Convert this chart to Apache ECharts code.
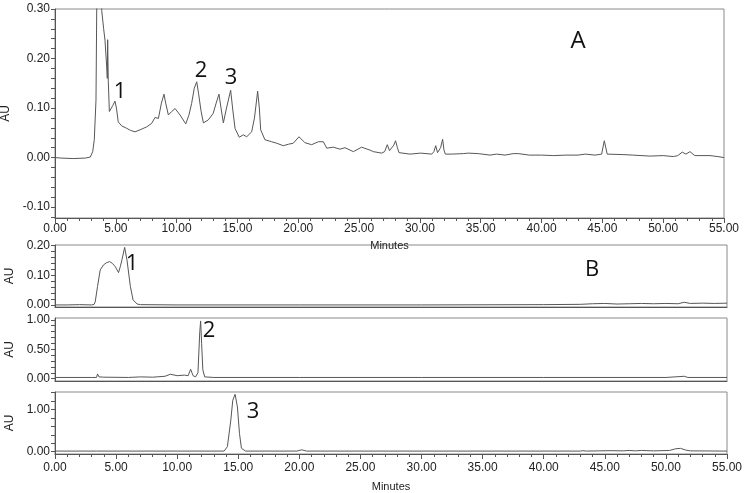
<!DOCTYPE html>
<html>
<head>
<meta charset="utf-8">
<script src="https://cdn.jsdelivr.net/npm/echarts@6/dist/echarts.min.js"></script>
<style>
html,body{margin:0;padding:0;background:#fff;}
#c{width:749px;height:493px;}
</style>
</head>
<body>
<div id="c"></div>
<script>
// ---- data (minutes, AU) ----
const traceA = [[0,0],[0.5,-0.001],[1.5,-0.002],[2.5,-0.001],[2.9,0.001],[3.1,0.012],[3.23,0.036],[3.37,0.116],[3.43,0.3],[3.6,0.48],[3.75,0.42],[3.84,0.297],[4.0,0.26],[4.11,0.237],[4.25,0.183],[4.3,0.16],[4.33,0.238],[4.36,0.238],[4.38,0.155],[4.47,0.093],[4.56,0.091],[4.75,0.105],[4.93,0.114],[5.05,0.1],[5.2,0.072],[5.48,0.064],[5.9,0.059],[6.2,0.055],[6.58,0.052],[6.99,0.056],[7.54,0.062],[7.95,0.069],[8.22,0.081],[8.5,0.079],[8.75,0.11],[8.96,0.128],[9.1,0.11],[9.32,0.086],[9.59,0.093],[9.87,0.099],[10.28,0.086],[10.75,0.068],[11.0,0.085],[11.23,0.109],[11.45,0.14],[11.65,0.153],[11.8,0.13],[12.0,0.095],[12.2,0.07],[12.6,0.076],[13.0,0.089],[13.25,0.11],[13.48,0.128],[13.65,0.1],[13.84,0.070],[14.1,0.1],[14.44,0.136],[14.6,0.1],[14.8,0.059],[15.15,0.041],[15.48,0.046],[15.76,0.042],[16.17,0.052],[16.4,0.08],[16.66,0.134],[16.8,0.1],[16.91,0.056],[17.26,0.036],[17.81,0.032],[18.22,0.029],[18.77,0.024],[19.2,0.027],[19.59,0.029],[20.06,0.042],[20.55,0.030],[21.1,0.026],[21.65,0.032],[22.06,0.032],[22.34,0.019],[22.88,0.021],[23.43,0.017],[23.84,0.020],[24.53,0.012],[25.2,0.021],[25.9,0.015],[26.17,0.012],[26.85,0.009],[27.1,0.012],[27.32,0.026],[27.5,0.014],[27.62,0.010],[27.85,0.025],[28.0,0.034],[28.15,0.02],[28.28,0.010],[29.18,0.007],[30.06,0.009],[30.97,0.007],[31.15,0.012],[31.3,0.024],[31.45,0.01],[31.54,0.007],[31.7,0.02],[31.87,0.037],[31.98,0.015],[32.09,0.007],[32.6,0.007],[33.57,0.008],[33.98,0.009],[34.8,0.008],[35.76,0.005],[36.3,0.007],[37.0,0.005],[37.67,0.008],[38.08,0.008],[39.0,0.005],[40,0.005],[41,0.004],[42,0.005],[43,0.005],[43.6,0.007],[44.4,0.005],[44.94,0.007],[45.16,0.034],[45.4,0.007],[46.7,0.006],[47.5,0.005],[48.9,0.003],[50,0.004],[50.83,0.002],[51.2,0.004],[51.57,0.011],[51.87,0.007],[52.2,0.012],[52.6,0.004],[53.85,0.004],[54.5,0.002],[55,0]];
const traceB = [[0,0],[1,0],[2,0.001],[3,0],[3.2,0.002],[3.29,0.01],[3.48,0.062],[3.7,0.118],[3.97,0.135],[4.2,0.142],[4.47,0.146],[4.7,0.14],[4.93,0.129],[5.2,0.109],[5.35,0.13],[5.48,0.152],[5.7,0.194],[5.89,0.152],[6.17,0.062],[6.39,0.017],[6.72,0.003],[7,0.001],[10,0],[20,0],[30,0],[40,0.001],[43,0.002],[44,0.004],[45,0.005],[46,0.003],[47,0.004],[48,0.005],[49,0.004],[50,0.005],[51,0.004],[51.5,0.009],[52,0.005],[53,0.006],[54,0.005],[55,0.006]];
const traceC = [[0,0.02],[3,0.02],[3.4,0.02],[3.48,0.08],[3.6,0.03],[4,0.025],[6,0.02],[7,0.03],[8,0.025],[9,0.04],[9.45,0.075],[10.0,0.05],[10.6,0.06],[10.9,0.05],[11.1,0.16],[11.3,0.05],[11.5,0.03],[11.7,0.1],[11.85,0.8],[11.92,0.98],[12.0,0.6],[12.1,0.15],[12.25,0.03],[13,0.02],[20,0.02],[30,0.02],[40,0.02],[50,0.02],[51.5,0.04],[51.8,0.02],[55,0.02]];
const traceD = [[0,0.015],[3.4,0.015],[3.5,0.04],[3.6,0.015],[10,0.015],[13.84,0.015],[14.11,0.12],[14.39,0.75],[14.55,1.22],[14.74,1.36],[14.93,1.06],[15.1,0.43],[15.26,0.08],[15.6,0.015],[19.8,0.015],[20.2,0.045],[20.6,0.015],[43,0.015],[43.2,0.025],[43.5,0.015],[44.5,0.02],[45.5,0.025],[46.5,0.02],[47,0.03],[47.5,0.02],[48,0.03],[49,0.02],[50.3,0.03],[50.8,0.07],[51.2,0.08],[51.6,0.04],[52,0.02],[55,0.015]];

// tick labels
const xTicks = [0,5,10,15,20,25,30,35,40,45,50,55];
const yTicksA = [-0.10,0.00,0.10,0.20,0.30];
const yTicksB = [0.00,0.10,0.20];
const yTicksC = [0.00,0.50,1.00];
const yTicksD = [0.00,1.00];
// axis ranges
const rangeA = [-0.122,0.30];
const rangeB = [-0.007,0.202];
const rangeC = [-0.04,1.03];
const rangeD = [-0.054,1.415];

const axisColor = '#555';
const txtColor = '#222';
const lineColor = '#575757';
const font = '"Liberation Sans", Arial, sans-serif';

function withMinor(major, range){
  const step = (major[1]-major[0])/5;
  const out = [];
  const start = Math.ceil((range[0]-1e-9)/step);
  const end = Math.floor((range[1]+1e-9)/step);
  for(let i=start;i<=end;i++){ out.push(+(i*step).toFixed(6)); }
  return out;
}

const grids = [
  {left:55, right:25, top:9, height:209},
  {left:55, right:22, top:245, height:62},
  {left:55, right:22, top:318, height:63},
  {left:55, right:22, top:392, height:62}
];
const ranges=[rangeA,rangeB,rangeC,rangeD];
const yticks=[yTicksA,yTicksB,yTicksC,yTicksD];
const traces=[traceA,traceB,traceC,traceD];

const option = {
  animation:false,
  backgroundColor:'#fff',
  grid: grids.map(g=>Object.assign({show:true, borderColor:'#8a8a8a', borderWidth:1, containLabel:false, outerBoundsMode:'none'}, g)),
  xAxis: [],
  yAxis: [],
  series: [],
  graphic: []
};

grids.forEach((g,i)=>{
  const showLabels = (i===0 || i===3);
  option.xAxis.push({
    type:'value', gridIndex:i, min:0, max:55, customValues:xTicks, interval:5,
    axisLine:{show:true, onZero:false, lineStyle:{color:axisColor,width:1}},
    axisTick:{show:showLabels, length:5, lineStyle:{color:axisColor}},
    minorTick:{show:showLabels, splitNumber:5, length:3, lineStyle:{color:axisColor}},
    splitLine:{show:false}, minorSplitLine:{show:false},
    axisLabel:{show:showLabels, color:txtColor, fontSize:12, fontFamily:font, margin:(i===3?8:5),
      formatter:v=>v.toFixed(2)},
    name: showLabels ? 'Minutes' : '', nameLocation:'middle', nameGap:(i===3?27:22),
    nameTextStyle:{color:txtColor, fontSize:11, fontFamily:font}
  });
  option.yAxis.push({
    type:'value', gridIndex:i, min:ranges[i][0], max:ranges[i][1],
    axisLine:{show:true, onZero:false, lineStyle:{color:axisColor,width:1}},
    axisTick:{show:true, length:4, customValues:withMinor(yticks[i], ranges[i]), lineStyle:{color:axisColor}},
    axisLabel:{show:true, customValues:yticks[i], color:txtColor, fontSize:12, fontFamily:font, margin:5,
      formatter:v=>v.toFixed(2)},
    splitLine:{show:false},
    name:'AU', nameLocation:'middle', nameGap:34, nameRotate:90,
    nameTextStyle:{color:txtColor, fontSize:12, fontFamily:font}
  });
  option.series.push({
    type:'line', xAxisIndex:i, yAxisIndex:i, data:traces[i],
    showSymbol:false, symbol:'none', clip:true,
    lineStyle:{color:lineColor, width:1}
  });
});

const ann = [
  ['A',578,41,24],['1',120,92,22],['2',201,71,22],['3',231,78,22],
  ['1',132,264,22],['B',592,270,22],['2',209,331,22],['3',253,412,22]
];
ann.forEach(a=>{
  option.graphic.push({type:'text', x:a[1], y:a[2], z:100,
    style:{text:a[0], fill:'#111', font:a[3]+'px "Open Sans", "Noto Sans", sans-serif', textAlign:'center', textVerticalAlign:'middle'}});
});

const chart = echarts.init(document.getElementById('c'), null, {renderer:'canvas'});
chart.setOption(option);
</script>
</body>
</html>
